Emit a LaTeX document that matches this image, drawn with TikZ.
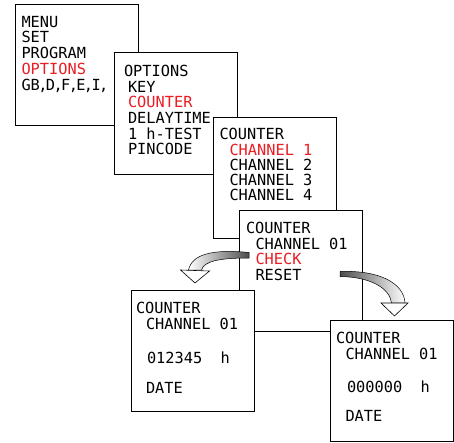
\documentclass[tikz,border=0pt]{standalone}
\usepackage{fontspec}
\setmonofont{DejaVu Sans Mono}
\definecolor{lcdred}{RGB}{235,28,36}
\newcommand\lcdcomma{\kern-1.6pt,\kern-1.6pt}
\begin{document}
\begin{tikzpicture}[x=1pt,y=-1pt,
  scr/.style={draw=black, line width=0.8pt, fill=white, anchor=north west,
    minimum width=123pt, minimum height=121.5pt, inner sep=0pt, outer sep=0pt},
  lcd/.style={font=\ttfamily\fontsize{15.3}{15.3}\selectfont, anchor=base west,
    inner sep=0pt, outer sep=0pt},
  hi/.style={lcd, text=lcdred},
  arrbody/.style={draw=black, line width=0.5pt},
  arrhead/.style={draw=black, line width=0.6pt, fill=white, line join=miter}]
\useasboundingbox (0,0) rectangle (454,443);

% screen 1
\node[scr] (b1) at (15.5,4) {};
\node[lcd] (m1) at (21.5,27.3) {MENU};
\node[lcd] (m2) at (21.5,43) {SET};
\node[lcd] (m3) at (21.5,58.8) {PROGRAM};
\node[hi]  (m4) at (21.5,74.6) {OPTIONS};
\node[lcd] (m5) at (21.5,90.4) {GB\lcdcomma D\lcdcomma F\lcdcomma E\lcdcomma I\lcdcomma};

% screen 2
\node[scr] (b2) at (114,52.5) {};
\node[lcd] (o1) at (124,76.7) {OPTIONS};
\node[lcd] (o2) at (128,92.3) {KEY};
\node[hi]  (o3) at (128,108) {COUNTER};
\node[lcd] (o4) at (128,123.7) {DELAYTIME};
\node[lcd] (o5) at (128,139.3) {1 h-TEST};
\node[lcd] (o6) at (128,155) {PINCODE};

% screen 3
\node[scr] (b3) at (213,117) {};
\node[lcd] (c1) at (219.5,140) {COUNTER};
\node[hi]  (c2) at (229.5,155.5) {CHANNEL 1};
\node[lcd] (c3) at (229.5,170.5) {CHANNEL 2};
\node[lcd] (c4) at (229.5,185.5) {CHANNEL 3};
\node[lcd] (c5) at (229.5,200.5) {CHANNEL 4};

% screen 4
\node[scr] (b4) at (239,210) {};
\node[lcd] (d1) at (246,233.3) {COUNTER};
\node[lcd] (d2) at (255.5,249) {CHANNEL 01};
\node[hi]  (d3) at (255.5,264.5) {CHECK};
\node[lcd] (d4) at (255.5,280) {RESET};

% arrows
\path[arrbody, left color=white, right color=black!70]
  (249,252.5) .. controls (213,249) and (192,254) .. (188.5,270)
  -- (201.5,270) .. controls (204,261) and (220,258) .. (249,258) -- cycle;
\draw[arrhead] (180.5,270) -- (209.5,271) -- (195,283) -- cycle;
\path[arrbody, left color=black!70, right color=white]
  (340,271.5) .. controls (381,270) and (404,284) .. (405,303)
  -- (391.5,303) .. controls (390,289) and (372,277) .. (340,276.5) -- cycle;
\draw[arrhead] (381,303) -- (408,303) -- (394.5,316) -- cycle;

% screen 5
\node[scr] (b5) at (131,290) {};
\node[lcd] (e1) at (136,313.3) {COUNTER};
\node[lcd] (e2) at (146,329.3) {CHANNEL 01};
\node[lcd] (e3) at (147,363.3) {012345~~h};
\node[lcd] (e4) at (146,393.3) {DATE};

% screen 6
\node[scr] (b6) at (330,320) {};
\node[lcd] (f1) at (336,343.3) {COUNTER};
\node[lcd] (f2) at (345.5,359.5) {CHANNEL 01};
\node[lcd] (f3) at (347,392.5) {000000~~h};
\node[lcd] (f4) at (345.5,421.7) {DATE};
\end{tikzpicture}
\end{document}
